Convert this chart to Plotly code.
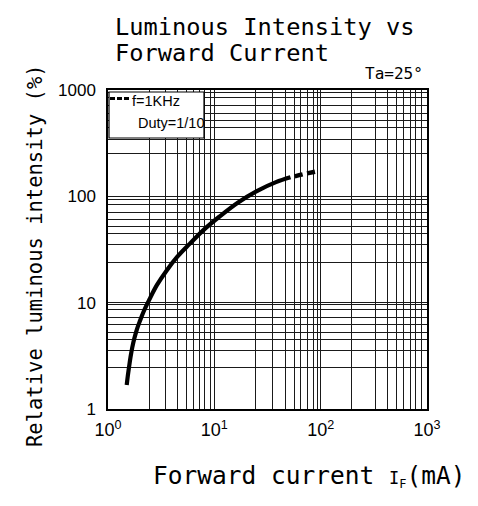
import plotly.graph_objects as go

# ---------------- data ----------------
current_solid = [1.5, 1.535, 1.58, 1.63, 1.69, 1.77, 1.87, 2.0, 2.16, 2.46, 2.88, 3.55, 4.47,
                 5.89, 7.94, 11.2, 16.6, 25.1, 38, 52]
intensity_solid = [1.68, 2.04, 2.51, 3.09, 3.78, 4.62, 5.62, 6.76, 8.22, 10.8, 14.6, 20, 26.9,
                   35.9, 48.4, 64.6, 87.1, 112, 136, 151]
current_dashed = [57, 70, 92]
intensity_dashed = [154, 162, 172]

x_major_vals = [1, 10, 100, 1000]
x_major_text = ["10<sup>0</sup>", "10<sup>1</sup>", "10<sup>2</sup>", "10<sup>3</sup>"]
y_major_vals = [1, 10, 100, 1000]
y_major_text = ["1", "10", "100", "1000"]

x_minor_grid = [2.45, 3.5, 4.55, 5.45, 6.35, 7.2, 8.1, 9.2,
                24.4, 35.5, 46.2, 56.5, 65.2, 75.2, 85.5, 93,
                195, 330, 425, 515, 600, 695, 785, 885]
y_minor_grid = [2.44, 3.55, 4.48, 5.28, 6.2, 7.3, 8.6, 9.6,
                24, 35, 44.5, 52, 61, 71, 84, 94,
                253, 340, 445, 513, 600, 710, 850, 950]

title_line1 = "Luminous Intensity vs"
title_line2 = "Forward Current"
temp_text = "Ta=25°"
y_title = "Relative luminous intensity (%)"
x_title = "Forward current <span style='font-size:17px'>I<sub>F</sub></span>(mA)"
legend_line1 = "f=1KHz"
legend_line2 = "Duty=1/10"

MONO = "DejaVu Sans Mono"
SANS = "Liberation Sans"

# ---------------- figure ----------------
fig = go.Figure()
fig.add_trace(go.Scatter(x=current_solid, y=intensity_solid, mode="lines",
                         line=dict(color="black", width=4.2, shape="spline", smoothing=1.0),
                         showlegend=False, hoverinfo="skip"))
fig.add_trace(go.Scatter(x=current_dashed, y=intensity_dashed, mode="lines",
                         line=dict(color="black", width=4.5, dash="8px,5px", shape="spline"),
                         showlegend=False, hoverinfo="skip"))

grid_col = "#1a1a1a"
axis_common = dict(type="log", range=[0, 3], showline=True, mirror=True,
                   linecolor="black", linewidth=1.5, showgrid=True,
                   gridcolor=grid_col, gridwidth=1, zeroline=False, ticks="")

fig.update_xaxes(**axis_common, tickmode="array", tickvals=x_major_vals, ticktext=x_major_text,
                 tickfont=dict(family=SANS, size=18, color="black"), ticklabelstandoff=4,
                 minor=dict(tickmode="array", tickvals=x_minor_grid, showgrid=True,
                            gridcolor=grid_col, gridwidth=1, ticks=""))
fig.update_yaxes(**axis_common, tickmode="array", tickvals=y_major_vals, ticktext=y_major_text,
                 tickfont=dict(family=SANS, size=17, color="black"), ticklabelstandoff=7,
                 minor=dict(tickmode="array", tickvals=y_minor_grid, showgrid=True,
                            gridcolor=grid_col, gridwidth=1, ticks=""))

# page has an 8px body margin, so the figure is a bit smaller and shifted
OFF = 8
W, H = 478 - OFF, 506 - OFF
PL, PR, PT, PB = 108, 427, 90, 409          # plot area in page pixels
L, T = PL - OFF, PT - OFF
R, B = W + OFF - PR, H + OFF - PB
pw, ph = PR - PL, PB - PT


def px(x):
    return (x - PL) / pw


def py(y):
    return (PB - y) / ph


annotations = [
    dict(text=title_line1, x=px(113), y=py(27.5), xanchor="left", yanchor="middle",
         font=dict(family=MONO, size=23.7, color="black")),
    dict(text=title_line2, x=px(113), y=py(52.5), xanchor="left", yanchor="middle",
         font=dict(family=MONO, size=23.7, color="black")),
    dict(text=temp_text, x=px(363), y=py(74), xanchor="left", yanchor="middle",
         font=dict(family=MONO, size=16, color="black")),
    dict(text=y_title, x=px(35), y=py(256), xanchor="center", yanchor="middle", textangle=-90,
         font=dict(family=MONO, size=20.5, color="black")),
    dict(text=x_title, x=px(309), y=py(476), xanchor="center", yanchor="middle",
         font=dict(family=MONO, size=24.5, color="black")),
    dict(text=legend_line1, x=px(130), y=py(100.5), xanchor="left", yanchor="middle",
         font=dict(family=SANS, size=14.5, color="black")),
    dict(text=legend_line2, x=px(136), y=py(123), xanchor="left", yanchor="middle",
         font=dict(family=SANS, size=14.5, color="black")),
]
for a in annotations:
    a.update(xref="paper", yref="paper", showarrow=False)

shapes = [
    dict(type="rect", xref="paper", yref="paper", x0=px(109), x1=px(204), y0=py(138), y1=py(92),
         fillcolor="white", line=dict(color="black", width=1.2), layer="above"),
    dict(type="line", xref="paper", yref="paper", x0=px(110), x1=px(131), y0=py(98.5), y1=py(98.5),
         line=dict(color="black", width=3, dash="5px,2px"), layer="above"),
]

fig.update_layout(width=W, height=H, margin=dict(l=L, r=R, t=T, b=B),
                  plot_bgcolor="white", paper_bgcolor="white",
                  annotations=annotations, shapes=shapes, showlegend=False)

fig.write_html("out.html")
